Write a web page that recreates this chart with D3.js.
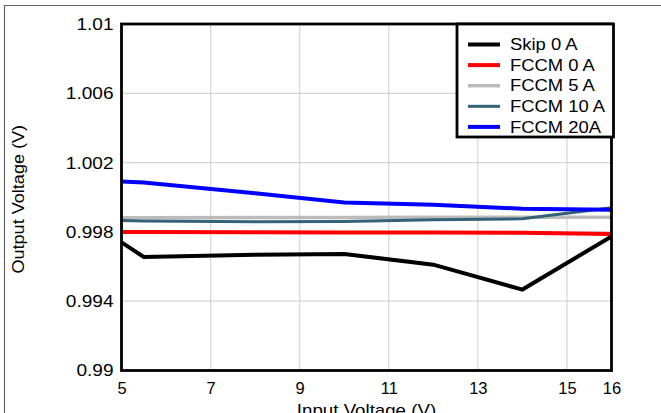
<!DOCTYPE html>
<html><head><meta charset="utf-8">
<script src="https://cdn.jsdelivr.net/npm/d3@7"></script>
<style>
html,body{margin:0;padding:0;background:#fff;}
svg{display:block;font-family:"Liberation Sans",Arial,sans-serif;}
</style></head>
<body><svg id="c" width="661" height="413"></svg>
<script>
const inputV = [5, 5.5, 8, 10, 12, 14, 16];
const skip0A  = [0.99740, 0.99655, 0.99668, 0.99673, 0.99611, 0.99467, 0.99774];
const fccm0A  = [0.99800, 0.99800, 0.99798, 0.99797, 0.99796, 0.99795, 0.99788];
const fccm5A  = [0.99882, 0.99882, 0.99883, 0.99883, 0.99884, 0.99884, 0.99885];
const fccm10A = [0.99866, 0.99863, 0.99858, 0.99860, 0.99870, 0.99876, 0.99940];
const fccm20A = [1.00091, 1.00085, 1.00023, 0.99970, 0.99957, 0.99934, 0.99928];
const seriesNames = ["Skip 0 A", "FCCM 0 A", "FCCM 5 A", "FCCM 10 A", "FCCM 20A"];
const seriesColors = ["#000000", "#ff0000", "#bbbbbb", "#336178", "#0000ff"];
const seriesWidths = [4, 4, 3.5, 3, 4];
const xTicks = [5, 7, 9, 11, 13, 15, 16];
const yTicks = [0.99, 0.994, 0.998, 1.002, 1.006, 1.01];
const yTickLabels = ["0.99", "0.994", "0.998", "1.002", "1.006", "1.01"];

const allSeries = [skip0A, fccm0A, fccm5A, fccm10A, fccm20A];
const svg = d3.select("#c");
const L = 121.5, R = 611.5, T = 24, B = 370.5;
const x = d3.scaleLinear().domain([5, 16]).range([L, R]);
const y = d3.scaleLinear().domain([0.99, 1.01]).range([B, T]);

function stretch(sel, k) {
  sel.each(function () {
    const w = this.getComputedTextLength();
    this.setAttribute("textLength", w * k);
    this.setAttribute("lengthAdjust", "spacingAndGlyphs");
  });
}

// outer frame lines
svg.append("line").attr("x1", 4).attr("x2", 661).attr("y1", 5.5).attr("y2", 5.5).attr("stroke", "#666").attr("stroke-width", 1.2);
svg.append("line").attr("x1", 4.5).attr("x2", 4.5).attr("y1", 5).attr("y2", 413).attr("stroke", "#666").attr("stroke-width", 1.2);

// grid
const g = svg.append("g");
g.selectAll(".vg").data(xTicks.filter(d => d > 5 && d < 16)).enter().append("line")
  .attr("x1", d => x(d)).attr("x2", d => x(d)).attr("y1", T).attr("y2", B)
  .attr("stroke", "#d4d4d4").attr("stroke-width", 1.2);
g.selectAll(".hg").data(yTicks.filter(d => d > 0.99 && d < 1.01)).enter().append("line")
  .attr("x1", L).attr("x2", R).attr("y1", d => y(d)).attr("y2", d => y(d))
  .attr("stroke", "#d4d4d4").attr("stroke-width", 1.2);

// axes labels via d3 axes
const xAxis = d3.axisBottom(x).tickValues(xTicks).tickSize(0).tickPadding(12).tickFormat(d3.format("d"));
const xa = svg.append("g").attr("transform", `translate(0,${B})`).call(xAxis);
xa.select(".domain").remove();
xa.selectAll("text").attr("font-size", 16.5).attr("fill", "#000").attr("font-family", "Liberation Sans, Arial, sans-serif");

const yAxis = d3.axisLeft(y).tickValues(yTicks).tickSize(0).tickPadding(8).tickFormat((d, i) => yTickLabels[i]);
const ya = svg.append("g").attr("transform", `translate(${L},0)`).call(yAxis);
ya.select(".domain").remove();
ya.selectAll("text").attr("font-size", 17).attr("fill", "#000").attr("font-family", "Liberation Sans, Arial, sans-serif");
stretch(ya.selectAll("text"), 1.12);

// clip
svg.append("clipPath").attr("id", "clip").append("rect").attr("x", L).attr("y", T).attr("width", R - L).attr("height", B - T);

const line = d3.line().x((d, i) => x(inputV[i])).y(d => y(d));
svg.append("g").attr("clip-path", "url(#clip)").selectAll("path").data(allSeries).enter().append("path")
  .attr("d", d => line(d)).attr("fill", "none")
  .attr("stroke", (d, i) => seriesColors[i]).attr("stroke-width", (d, i) => seriesWidths[i])
  .attr("stroke-linejoin", "miter");

// plot frame
svg.append("rect").attr("x", L).attr("y", T).attr("width", R - L).attr("height", B - T)
  .attr("fill", "none").attr("stroke", "#000").attr("stroke-width", 2.8);

// legend
const lg = svg.append("g");
lg.append("rect").attr("x", 457).attr("y", 24).attr("width", 156.5).attr("height", 113)
  .attr("fill", "#fff").attr("stroke", "#000").attr("stroke-width", 2.8);
seriesNames.forEach((n, i) => {
  const yy = 44.5 + i * 20.6;
  lg.append("line").attr("x1", 468).attr("x2", 500).attr("y1", yy).attr("y2", yy)
    .attr("stroke", seriesColors[i]).attr("stroke-width", seriesWidths[i]);
  const t = lg.append("text").attr("x", 510).attr("y", yy).attr("dy", "0.36em").attr("font-size", 16).text(n);
  stretch(t, 1.15);
});

// axis titles
const xt = svg.append("text").attr("x", (L + R) / 2).attr("y", 416).attr("text-anchor", "middle").attr("font-size", 17).text("Input Voltage (V)");
stretch(xt, 1.1);
const yt = svg.append("text").attr("transform", `translate(24,${(T + B) / 2 + 2}) rotate(-90)`).attr("text-anchor", "middle").attr("font-size", 16).text("Output Voltage (V)");
stretch(yt, 1.13);
</script></body></html>
